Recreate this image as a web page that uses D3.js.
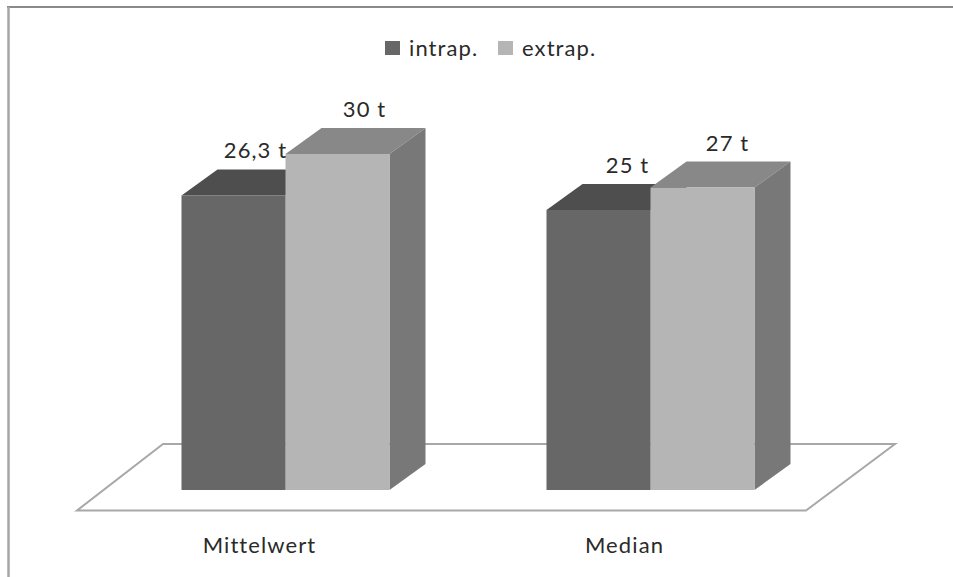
<!DOCTYPE html>
<html>
<head>
<meta charset="utf-8">
<script src="https://cdn.jsdelivr.net/npm/d3@7"></script>
<style>
  html, body { margin: 0; padding: 0; background: #fff; }
  svg { display: block; }
  text { font-family: Lato, "Open Sans", sans-serif; fill: #2a2a2a; letter-spacing: 1.1px; }
</style>
</head>
<body>
<svg id="chart" width="953" height="577"></svg>
<script>
// Tonnage figures shown as paired 3D columns
const categories = ["Mittelwert", "Median"];
const seriesNames = ["intrap.", "extrap."];
const intrap = [26.3, 25];
const extrap = [30, 27];
const intrapLabels = ["26,3 t", "25 t"];
const extrapLabels = ["30 t", "27 t"];

const frontColors = ["#676767", "#b5b5b5"];
const topColors = ["#4e4e4e", "#888888"];
const sideColors = ["#555555", "#787878"];

const W = 953, H = 577;
const baseY = 490;
const depth = { x: 36, y: -26 };
const barW = 104;

const svg = d3.select("#chart");

const groupX = d3.scaleOrdinal().domain(categories).range([181.5, 546.5]);
const y = d3.scaleLinear().domain([0, 30]).range([baseY, 154]);

// Chart frame: only the top and left edges are drawn
svg.append("line")
  .attr("x1", 7).attr("x2", W).attr("y1", 7).attr("y2", 7)
  .attr("stroke", "#8a8a8a").attr("stroke-width", 2);
svg.append("line")
  .attr("x1", 8.5).attr("x2", 8.5).attr("y1", 7).attr("y2", H)
  .attr("stroke", "#a6a6a6").attr("stroke-width", 2.5);

// Floor plane
svg.append("path")
  .attr("d", d3.line()([[77, 510.5], [806, 510.5], [895, 444], [163, 444]]) + "Z")
  .attr("fill", "#fff").attr("stroke", "#a8a8a8").attr("stroke-width", 2);

// Columns: top and side faces first, then the front face
const series = [intrap, extrap];
categories.forEach(cat => {
  const ci = categories.indexOf(cat);
  series.forEach((values, si) => {
    const x1 = groupX(cat) + si * barW;
    const x2 = x1 + barW;
    const yt = y(values[ci]);
    const g = svg.append("g").attr("class", "column");
    g.append("path")
      .attr("d", d3.line()([[x1, yt], [x2, yt], [x2 + depth.x, yt + depth.y], [x1 + depth.x, yt + depth.y]]) + "Z")
      .attr("fill", topColors[si]);
    g.append("path")
      .attr("d", d3.line()([[x2, yt], [x2 + depth.x, yt + depth.y], [x2 + depth.x, baseY + depth.y], [x2, baseY]]) + "Z")
      .attr("fill", sideColors[si]);
    g.append("rect")
      .attr("x", x1).attr("y", yt)
      .attr("width", barW).attr("height", baseY - yt)
      .attr("fill", frontColors[si]);
  });
});

// Value labels above the columns, nudged sideways per column
const labelNudge = [[22, 29], [27, 25]];
const seriesLabels = [intrapLabels, extrapLabels];
series.forEach((values, si) => {
  categories.forEach((cat, ci) => {
    svg.append("text")
      .attr("x", groupX(cat) + si * barW + barW / 2 + labelNudge[si][ci])
      .attr("y", y(values[ci]) + depth.y - 11)
      .attr("text-anchor", "middle")
      .attr("font-size", 22)
      .text(seriesLabels[si][ci]);
  });
});

// Category labels
const categoryNudge = [78, 78];
categories.forEach((cat, ci) => {
  svg.append("text")
    .attr("x", groupX(cat) + categoryNudge[ci])
    .attr("y", 553)
    .attr("text-anchor", "middle")
    .attr("font-size", 22)
    .text(cat);
});

// Legend
const legendX = [385, 498];
seriesNames.forEach((name, i) => {
  svg.append("rect")
    .attr("x", legendX[i]).attr("y", 41)
    .attr("width", 15).attr("height", 14)
    .attr("fill", frontColors[i]);
  svg.append("text")
    .attr("x", legendX[i] + 24).attr("y", 56)
    .attr("font-size", 22)
    .text(name);
});
</script>
</body>
</html>
